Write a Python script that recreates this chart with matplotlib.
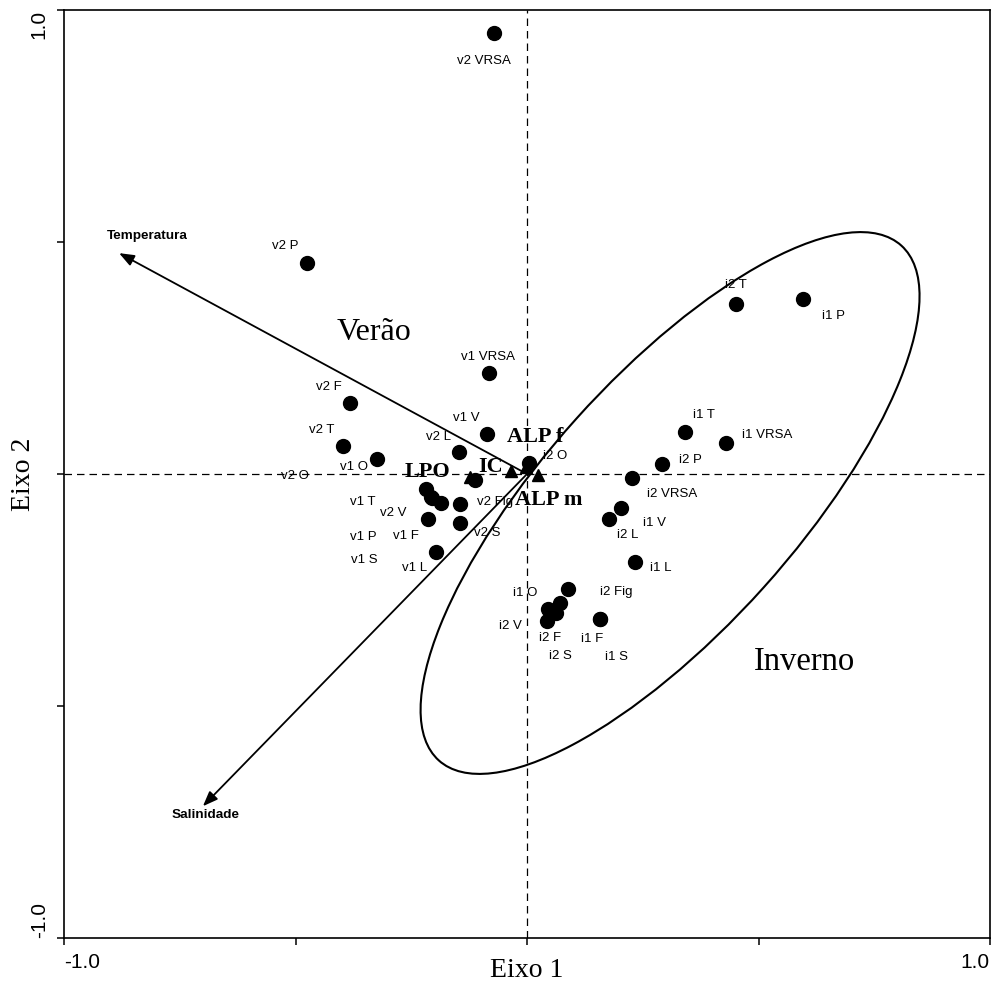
'''Biplot of seasonal samples with environmental vectors (Temperatura, Salinidade)'''

import matplotlib
matplotlib.use("Agg")
import matplotlib.pyplot as plt
import matplotlib.ticker as mticker
from matplotlib.patches import Ellipse, Rectangle

SANS = "Liberation Sans"
SERIF = "Liberation Serif"

# sample scores (Eixo 1, Eixo 2) and where their labels sit
site_names = ["v2 VRSA", "v2 P", "v1 VRSA", "v2 F", "v1 V", "v2 T", "v2 L", "v1 O",
              "v2 O", "v1 T", "v2 V", "v1 P", "v2 Fig", "v1 F", "v2 S", "v1 L", "v1 S",
              "i2 T", "i1 P", "i1 T", "i1 VRSA", "i2 O", "i2 P", "i2 VRSA", "i1 V",
              "i2 L", "i1 L", "i2 Fig", "i1 O", "i2 F", "i2 V", "i2 S", "i1 F", "i1 S"]
site_x = [-0.071, -0.475, -0.082, -0.382, -0.086, -0.397, -0.147, -0.324,
          -0.112, -0.218, -0.207, -0.186, -0.145, -0.214, -0.145, -0.197, -0.205,
          0.451, 0.596, 0.341, 0.430, 0.004, 0.292, 0.227, 0.203,
          0.177, 0.233, 0.089, 0.071, 0.045, 0.043, 0.063, 0.158, 0.158]
site_y = [0.950, 0.455, 0.218, 0.153, 0.086, 0.060, 0.047, 0.032,
          -0.013, -0.032, -0.050, -0.063, -0.065, -0.097, -0.106, -0.168, -0.052,
          0.366, 0.377, 0.091, 0.067, 0.024, 0.022, -0.009, -0.073,
          -0.097, -0.190, -0.248, -0.278, -0.291, -0.317, -0.300, -0.313, -0.313]
label_x = [-0.093, -0.523, -0.084, -0.428, -0.132, -0.443, -0.192, -0.374,
           -0.501, -0.354, -0.289, -0.354, -0.069, -0.261, -0.086, -0.242, -0.352,
           0.451, 0.663, 0.382, 0.518, 0.060, 0.352, 0.313, 0.276,
           0.218, 0.289, 0.192, -0.004, 0.050, -0.035, 0.073, 0.140, 0.194]
label_y = [0.890, 0.491, 0.252, 0.188, 0.121, 0.095, 0.080, 0.015,
           -0.004, -0.060, -0.084, -0.136, -0.060, -0.134, -0.127, -0.203, -0.185,
           0.407, 0.341, 0.127, 0.084, 0.039, 0.030, -0.043, -0.106,
           -0.131, -0.203, -0.254, -0.256, -0.353, -0.328, -0.392, -0.356, -0.394]

# species (triangles)
species_names = ["LPO", "IC", "ALP f", "ALP m"]
species_x = [-0.123, -0.035, -0.002, 0.024]
species_y = [-0.006, 0.006, 0.015, -0.002]
species_label_x = [-0.214, -0.078, 0.017, 0.048]
species_label_y = [0.004, 0.015, 0.080, -0.056]

# environmental vectors
env_names = ["Temperatura", "Salinidade"]
env_x = [-0.881, -0.700]
env_y = [0.476, -0.716]
env_label_x = [-0.819, -0.695]
env_label_y = [0.513, -0.735]

# winter group ellipse
ell_center = (0.309, -0.0625)
ell_width = 1.493
ell_height = 0.544
ell_angle = 48

fig = plt.figure(figsize=(9.94, 9.92), dpi=100)
ax = fig.add_axes([64 / 994, 54 / 992, 926 / 994, 928 / 992])
ax.set_xlim(-1, 1)
ax.set_ylim(-1, 1)

ax.axhline(0, color="black", linestyle=(0, (6, 4)), linewidth=0.9)
ax.axvline(0, color="black", linestyle=(0, (6, 4)), linewidth=0.9)

ax.add_patch(Ellipse(ell_center, ell_width, ell_height, angle=ell_angle,
                     fill=False, edgecolor="black", linewidth=1.5))

for name, ex, ey, lx, ly in zip(env_names, env_x, env_y, env_label_x, env_label_y):
    ax.annotate("", xy=(ex, ey), xytext=(0, 0),
                arrowprops=dict(arrowstyle="-|>,head_length=0.9,head_width=0.35",
                                color="black", linewidth=1.3, shrinkA=0, shrinkB=0))
    ax.text(lx, ly, name, family=SANS, fontsize=9.7, fontweight="bold",
            ha="center", va="center")

ax.plot(site_x, site_y, "o", color="black", markersize=10, zorder=3)
for name, lx, ly in zip(site_names, label_x, label_y):
    ax.text(lx, ly, name, family=SANS, fontsize=9.5, ha="center", va="center")

ax.plot(species_x, species_y, "^", color="black", markersize=9, zorder=3)
for name, lx, ly in zip(species_names, species_label_x, species_label_y):
    ax.text(lx, ly, name, family=SERIF, fontsize=16, fontweight="bold",
            ha="center", va="center", zorder=4)

ax.text(-0.330, 0.306, "Verão", family=SERIF, fontsize=23, ha="center", va="center")
winter = ax.text(0.599, -0.4224, "Inverno", family=SERIF, fontsize=23.5,
                 ha="center", va="baseline")
# the group label is cut off just above its baseline in the original
clip = Rectangle((-1, -0.418), 2, 2, transform=ax.transData, visible=False)
ax.add_patch(clip)
winter.set_clip_path(clip)

# ticks every 0.5, labels only at the ends
ticks = [-1, -0.5, 0, 0.5, 1]
tick_text = ["-1.0", "", "", "", "1.0"]
ax.xaxis.set_major_locator(mticker.FixedLocator(ticks))
ax.yaxis.set_major_locator(mticker.FixedLocator(ticks))
ax.xaxis.set_major_formatter(mticker.FixedFormatter(tick_text))
ax.yaxis.set_major_formatter(mticker.FixedFormatter(tick_text))
ax.tick_params(direction="out", length=5, width=1.1, labelsize=15, pad=6)
ax.tick_params(axis="y", labelrotation=90)
for lab in ax.get_xticklabels() + ax.get_yticklabels():
    lab.set_family(SANS)
xt = ax.get_xticklabels()
xt[0].set_ha("left")
xt[-1].set_ha("right")
yt = ax.get_yticklabels()
yt[0].set_va("bottom")
yt[-1].set_va("top")

for sp in ax.spines.values():
    sp.set_linewidth(1.2)

ax.set_xlabel("Eixo 1", family=SERIF, fontsize=20)
ax.set_ylabel("Eixo 2", family=SERIF, fontsize=20)
ax.xaxis.set_label_coords(0.5, -0.022)
ax.yaxis.set_label_coords(-0.030, 0.5)

plt.savefig("out.png", dpi=100)
plt.close()
